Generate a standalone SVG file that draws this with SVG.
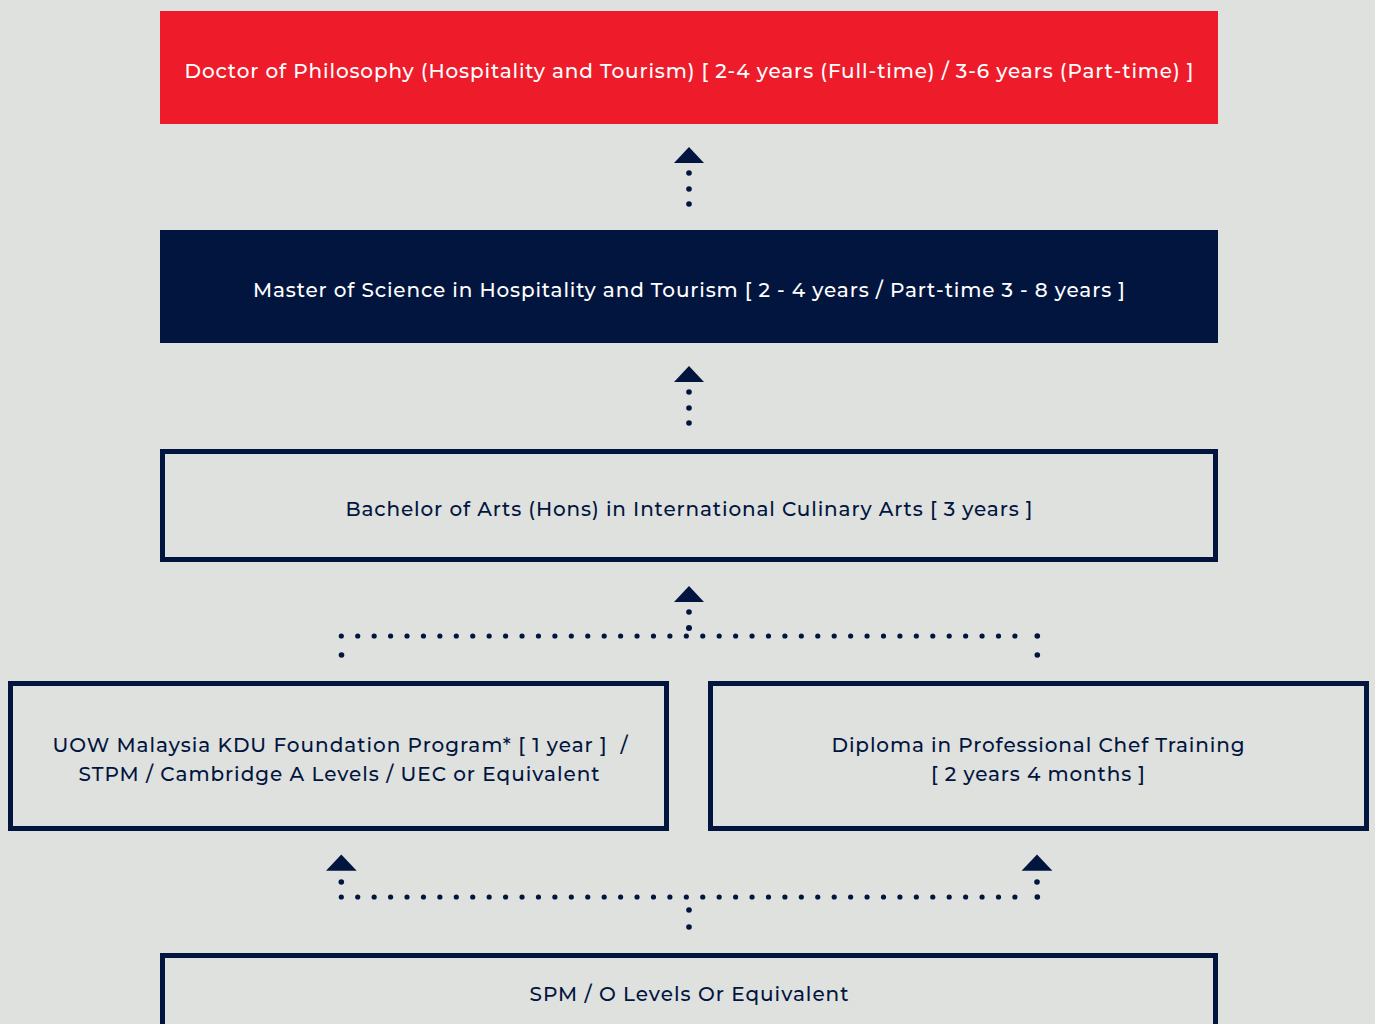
<svg xmlns="http://www.w3.org/2000/svg" width="1375" height="1024" viewBox="0 0 1375 1024">
<style>
.t{font-family:"Montserrat","Open Sans","Liberation Sans",sans-serif;font-size:20px;text-anchor:middle;font-weight:500}
.w{fill:#ffffff}
.n{fill:#02153f}
.ob{fill:none;stroke:#02153f;stroke-width:5}
.dl{stroke:#02153f;stroke-width:5.2;stroke-linecap:round;stroke-dasharray:0 16.43;fill:none}
.d{fill:#02153f}
</style>
<rect width="1375" height="1024" fill="#dfe1de"/>
<g id="phd">
<rect x="160" y="11" width="1058" height="113" fill="#ee1c2b"/>
<text class="t w" x="689" y="78" textLength="1009">Doctor of Philosophy (Hospitality and Tourism) [ 2-4 years (Full-time) / 3-6 years (Part-time) ]</text>
</g>
<g id="master">
<rect x="160" y="230" width="1058" height="113" fill="#02153f"/>
<text class="t w" x="689" y="297" textLength="872">Master of Science in Hospitality and Tourism [ 2 - 4 years / Part-time 3 - 8 years ]</text>
</g>
<g id="bachelor">
<rect class="ob" x="162.5" y="451.5" width="1053" height="108"/>
<text class="t n" x="689" y="516" textLength="687">Bachelor of Arts (Hons) in International Culinary Arts [ 3 years ]</text>
</g>
<g id="foundation">
<rect class="ob" x="10.5" y="683.5" width="656" height="145"/>
<text class="t n" x="340" y="752" textLength="575" style="white-space:pre">UOW Malaysia KDU Foundation Program* [ 1 year ]  /</text>
<text class="t n" x="339" y="781" textLength="521">STPM / Cambridge A Levels / UEC or Equivalent</text>
</g>
<g id="diploma">
<rect class="ob" x="710.5" y="683.5" width="656" height="145"/>
<text class="t n" x="1038" y="752" textLength="413">Diploma in Professional Chef Training</text>
<text class="t n" x="1038" y="781" textLength="214">[ 2 years 4 months ]</text>
</g>
<g id="spm">
<rect class="ob" x="162.5" y="955.5" width="1053" height="80"/>
<text class="t n" x="689" y="1001" textLength="319">SPM / O Levels Or Equivalent</text>
</g>
<g id="connectors">
<polygon class="d" points="689,147 704,163 674,163"/>
<circle class="d" cx="689" cy="173" r="2.8"/>
<circle class="d" cx="689" cy="189" r="2.8"/>
<circle class="d" cx="689" cy="204" r="2.8"/>
<polygon class="d" points="689,366 704,382 674,382"/>
<circle class="d" cx="689" cy="392" r="2.8"/>
<circle class="d" cx="689" cy="408" r="2.8"/>
<circle class="d" cx="689" cy="423" r="2.8"/>
<polygon class="d" points="689,586 704,602 674,602"/>
<circle class="d" cx="689" cy="612" r="2.8"/>
<circle class="d" cx="689" cy="628" r="3"/>
<line class="dl" x1="341.3" y1="636" x2="1016" y2="636"/>
<circle class="d" cx="1037.3" cy="636" r="2.8"/>
<circle class="d" cx="341.5" cy="655" r="2.8"/>
<circle class="d" cx="1037.3" cy="655" r="2.8"/>
<polygon class="d" points="341.3,854.5 356.7,870.7 326,870.7"/>
<polygon class="d" points="1037,854.5 1052.4,870.7 1021.6,870.7"/>
<circle class="d" cx="341.3" cy="882" r="2.8"/>
<circle class="d" cx="1037" cy="882" r="2.8"/>
<line class="dl" x1="341.3" y1="897" x2="1016" y2="897"/>
<circle class="d" cx="1037.3" cy="897" r="2.8"/>
<circle class="d" cx="689" cy="910" r="2.8"/>
<circle class="d" cx="689" cy="927" r="2.8"/>
</g>
</svg>
